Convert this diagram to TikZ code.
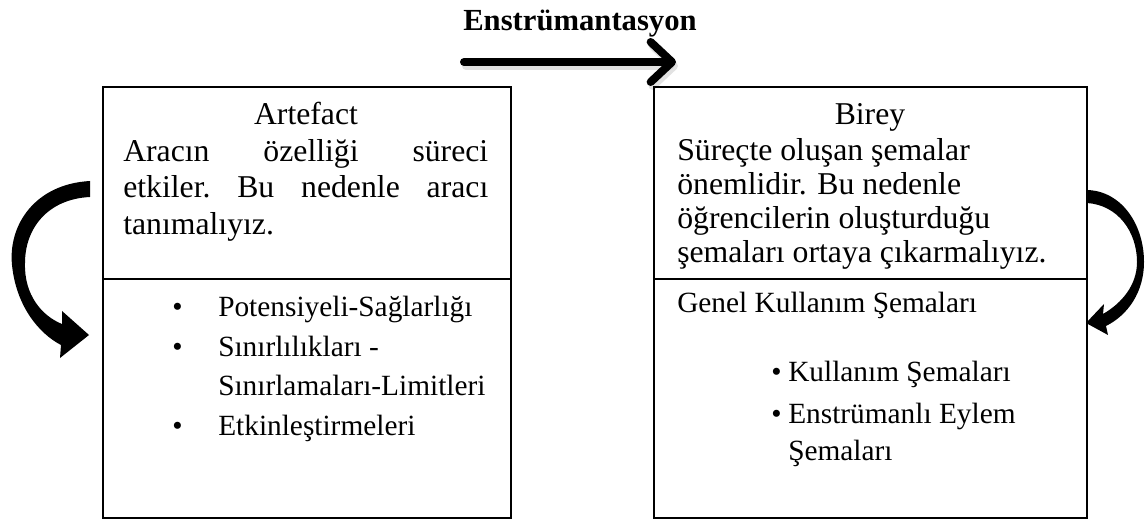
\documentclass[tikz,border=0pt]{standalone}
\usepackage{fontspec}
\setmainfont{Liberation Serif}
\usetikzlibrary{arrows.meta}
\tikzset{
  panel/.style={draw, line width=1.4pt, anchor=north west, inner sep=0pt},
  body/.style={anchor=base west, inner sep=0pt, font=\fontsize{23.8}{28}\selectfont},
  item/.style={anchor=base west, inner sep=0pt, font=\fontsize{22}{26}\selectfont},
  flowarrow/.style={line width=6pt, line cap=round, -{Straight Barb[length=16pt, width=30pt, round]}},
}
\begin{document}
\begin{tikzpicture}[x=0.75pt, y=-0.75pt]
  \useasboundingbox (0,0) rectangle (1146,520);
  % title and flow arrow
  \node[anchor=base, inner sep=0pt, font=\bfseries\fontsize{23}{28}\selectfont] (title) at (580,31) {Enstrümantasyon};
  \coordinate (flowL) at (464,62);
  \coordinate (flowR) at (676,62);
  \draw[flowarrow, gray!50, opacity=0.45] ([shift={(2,4)}]flowL) -- ([shift={(2,4)}]flowR);
  \draw[flowarrow] (flowL) -- (flowR);
  % panels
  \node[panel, minimum width=306pt, minimum height=144pt] (artTop) at (102,86) {};
  \node[panel, minimum width=306pt, minimum height=179.25pt] (artList) at (102,278) {};
  \node[panel, minimum width=324.75pt, minimum height=144pt] (birTop) at (653,86) {};
  \node[panel, minimum width=324.75pt, minimum height=179.25pt] (birList) at (653,278) {};
  % artefact side
  \node[body, anchor=base] (artHead) at (306,125) {Artefact};
  \node[body] (artL1) at (123,162) {\hbox to 273.75pt{Aracın\hfill özelliği\hfill süreci}};
  \node[body] (artL2) at (123,198) {\hbox to 273.75pt{etkiler.\hfill Bu\hfill nedenle\hfill aracı}};
  \node[body] (artL3) at (123,235) {tanımalıyız.};
  \node[item] (artB1) at (172,317) {•};
  \node[item] (artI1) at (218,317) {Potensiyeli-Sağlarlığı};
  \node[item] (artB2) at (172,357) {•};
  \node[item] (artI2) at (218,357) {Sınırlılıkları -};
  \node[item] (artI2b) at (218,395) {Sınırlamaları-Limitleri};
  \node[item] (artB3) at (172,435) {•};
  \node[item] (artI3) at (218,435) {Etkinleştirmeleri};
  % birey side
  \node[body, anchor=base] (birHead) at (870,125) {Birey};
  \node[body] (birL1) at (677,161) {Süreçte oluşan şemalar};
  \node[body] (birL2) at (677,195) {önemlidir. Bu nedenle};
  \node[body] (birL3) at (677,229) {öğrencilerin oluşturduğu};
  \node[body] (birL4) at (677,263) {şemaları ortaya çıkarmalıyız.};
  \node[item] (genel) at (677,313) {Genel Kullanım Şemaları};
  \node[item] (birB1) at (771,382) {•};
  \node[item] (birI1) at (788,382) {Kullanım Şemaları};
  \node[item] (birB2) at (771,423) {•};
  \node[item] (birI2) at (788,423) {Enstrümanlı Eylem};
  \node[item] (birI2b) at (788,460) {Şemaları};
  % curved arrows
  \fill (90,181) .. controls (35,184) and (8,225) .. (12,265)
    .. controls (16,305) and (38,333) .. (61,345) -- (60,358) -- (89,335) -- (62,311) -- (62,324)
    .. controls (42,316) and (24,295) .. (25,263)
    .. controls (25,228) and (48,199) .. (90,197) -- cycle;
  \fill (1087,190) .. controls (1122,191) and (1144,225) .. (1144,262)
    .. controls (1144,292) and (1128,315) .. (1106,326) -- (1108,335) -- (1086,323) -- (1104,304) -- (1103,314)
    .. controls (1122,303) and (1137,285) .. (1137,262)
    .. controls (1137,232) and (1118,205) .. (1087,203) -- cycle;
\end{tikzpicture}
\end{document}
